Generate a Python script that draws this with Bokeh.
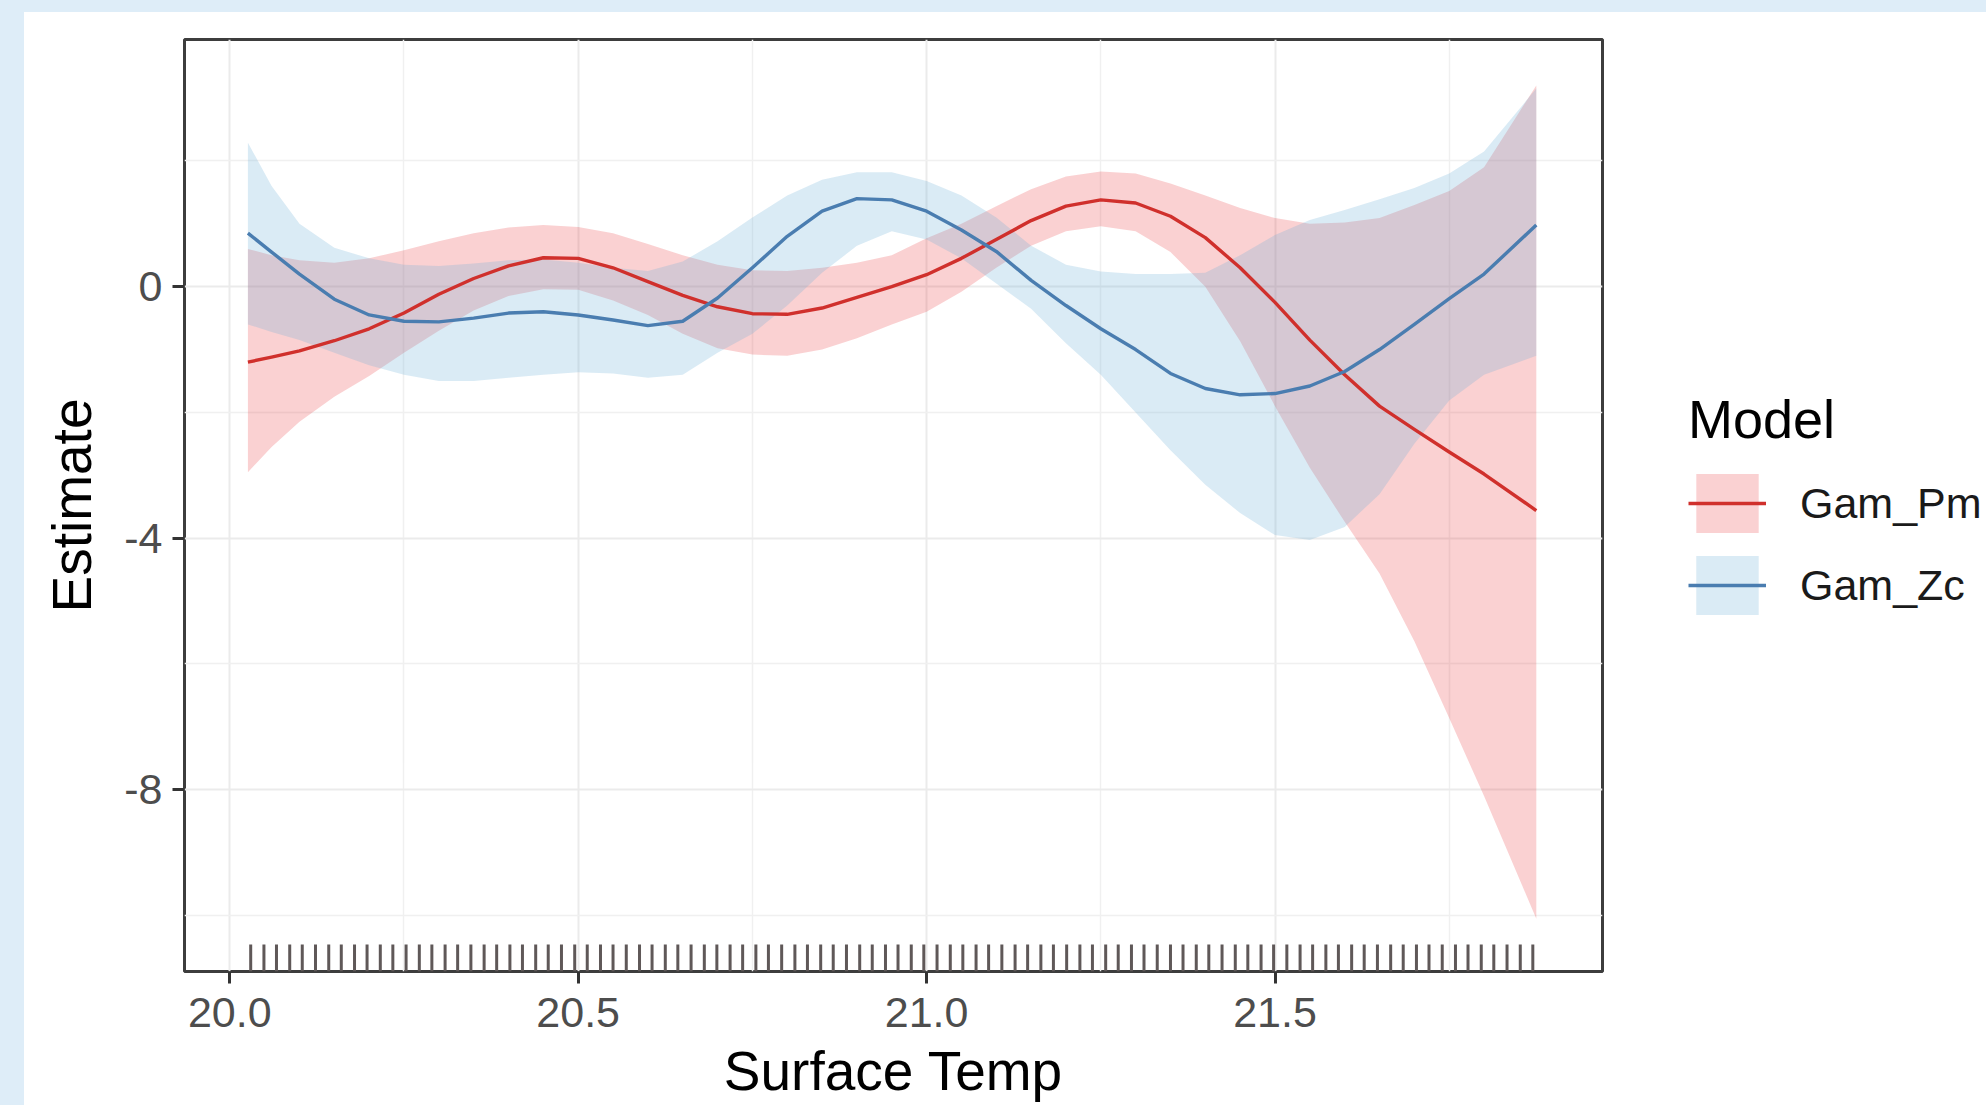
from bokeh.plotting import figure
from bokeh.layouts import row
from bokeh.models import (Range1d, FixedTicker, Legend, LegendItem,
                          GlobalInlineStyleSheet, PrintfTickFormatter)
from bokeh.embed import file_html
from bokeh.resources import INLINE

# ---------------- data ----------------
surface_temp = [20.026, 20.06, 20.1, 20.15, 20.2, 20.25, 20.3, 20.35, 20.4, 20.45,
                20.5, 20.55, 20.6, 20.65, 20.7, 20.75, 20.8, 20.85, 20.9, 20.95,
                21.0, 21.05, 21.1, 21.15, 21.2, 21.25, 21.3, 21.35, 21.4, 21.45,
                21.5, 21.55, 21.6, 21.65, 21.7, 21.75, 21.8, 21.875]

pm_fit = [-1.2, -1.12, -1.02, -0.86, -0.67, -0.42, -0.12, 0.13, 0.33, 0.46,
          0.45, 0.3, 0.08, -0.14, -0.32, -0.43, -0.44, -0.34, -0.17, 0.0,
          0.19, 0.45, 0.75, 1.05, 1.28, 1.38, 1.33, 1.12, 0.78, 0.3,
          -0.25, -0.85, -1.4, -1.9, -2.27, -2.63, -2.98, -3.56]
pm_upper = [0.6, 0.5, 0.42, 0.38, 0.45, 0.58, 0.72, 0.85, 0.94, 0.98,
            0.95, 0.85, 0.68, 0.5, 0.35, 0.26, 0.25, 0.3, 0.38, 0.5,
            0.77, 1.0, 1.28, 1.55, 1.75, 1.83, 1.8, 1.64, 1.45, 1.25,
            1.09, 1.0, 1.02, 1.09, 1.3, 1.52, 1.9, 3.2]
pm_lower = [-2.95, -2.55, -2.15, -1.75, -1.42, -1.05, -0.7, -0.38, -0.15, -0.04,
            -0.05, -0.22, -0.45, -0.75, -0.98, -1.08, -1.1, -1.0, -0.82, -0.6,
            -0.4, -0.08, 0.3, 0.65, 0.88, 0.96, 0.88, 0.55, 0.0, -0.87,
            -1.9, -2.88, -3.74, -4.56, -5.64, -6.86, -8.1, -10.05]

zc_fit = [0.85, 0.55, 0.2, -0.2, -0.45, -0.55, -0.56, -0.5, -0.42, -0.4,
          -0.45, -0.53, -0.62, -0.55, -0.18, 0.3, 0.8, 1.2, 1.4, 1.38,
          1.2, 0.9, 0.56, 0.1, -0.3, -0.67, -1.0, -1.38, -1.62, -1.72,
          -1.7, -1.58, -1.35, -1.0, -0.6, -0.19, 0.2, 0.98]
zc_upper = [2.29, 1.6, 1.0, 0.62, 0.45, 0.35, 0.33, 0.37, 0.42, 0.43,
            0.38, 0.3, 0.25, 0.4, 0.72, 1.1, 1.45, 1.7, 1.82, 1.82,
            1.68, 1.45, 1.1, 0.65, 0.35, 0.24, 0.2, 0.2, 0.22, 0.5,
            0.82, 1.06, 1.22, 1.39, 1.57, 1.8, 2.15, 3.15]
zc_lower = [-0.6, -0.72, -0.85, -1.05, -1.25, -1.4, -1.5, -1.5, -1.45, -1.4,
            -1.36, -1.38, -1.45, -1.4, -1.05, -0.75, -0.3, 0.22, 0.65, 0.88,
            0.75, 0.45, 0.05, -0.35, -0.9, -1.4, -2.0, -2.6, -3.15, -3.6,
            -3.95, -4.03, -3.82, -3.3, -2.5, -1.81, -1.4, -1.1]

rug_temp = [20.030, 20.049, 20.067, 20.086, 20.104, 20.123, 20.142, 20.160, 20.179, 20.197,
            20.216, 20.234, 20.253, 20.272, 20.290, 20.309, 20.327, 20.346, 20.365, 20.383,
            20.402, 20.420, 20.439, 20.457, 20.476, 20.495, 20.513, 20.532, 20.550, 20.569,
            20.588, 20.606, 20.625, 20.643, 20.662, 20.681, 20.699, 20.718, 20.736, 20.755,
            20.773, 20.792, 20.811, 20.829, 20.848, 20.866, 20.885, 20.904, 20.922, 20.941,
            20.959, 20.978, 20.996, 21.015, 21.034, 21.052, 21.071, 21.089, 21.108, 21.127,
            21.145, 21.164, 21.182, 21.201, 21.220, 21.238, 21.257, 21.275, 21.294, 21.312,
            21.331, 21.350, 21.368, 21.387, 21.405, 21.424, 21.443, 21.461, 21.480, 21.498,
            21.517, 21.536, 21.554, 21.573, 21.591, 21.610, 21.628, 21.647, 21.666, 21.684,
            21.703, 21.721, 21.740, 21.759, 21.777, 21.796, 21.814, 21.833, 21.852, 21.870]

x_ticks = [20.0, 20.5, 21.0, 21.5]
x_tick_labels = ["20.0", "20.5", "21.0", "21.5"]
x_minor = [20.25, 20.75, 21.25, 21.75]
y_ticks = [0, -4, -8]
y_tick_labels = ["0", "-4", "-8"]
y_minor = [2, -2, -6, -10]
models = ["Gam_Pm", "Gam_Zc"]

# ---------------- styling ----------------
FONT = "Liberation Sans"
PM_LINE, PM_FILL = "#D0302C", "#E41A1C"
ZC_LINE, ZC_FILL = "#4A7DB0", "#6BAED6"
PM_ALPHA, ZC_ALPHA = 0.2, 0.25
X0, X1 = 19.935, 21.970
Y0, Y1 = -10.89, 3.93
H = 1093

p = figure(width=1582, height=H,
           x_range=Range1d(X0, X1), y_range=Range1d(Y0, Y1),
           output_backend="svg", toolbar_location=None,
           min_border_left=160, min_border_top=27,
           min_border_right=4, min_border_bottom=134)
p.stylesheets = [GlobalInlineStyleSheet(css=(
    "html,body{margin:0;overflow:hidden;background:#deedf8;}"
    "body{padding:12px 0 0 24px;}"))]
p.background_fill_color = "white"
p.border_fill_color = "white"
p.outline_line_color = "#3d3d3d"
p.outline_line_width = 3

# ribbons
p.varea(x=surface_temp, y1=pm_lower, y2=pm_upper, fill_color=PM_FILL, fill_alpha=PM_ALPHA)
p.varea(x=surface_temp, y1=zc_lower, y2=zc_upper, fill_color=ZC_FILL, fill_alpha=ZC_ALPHA)
# lines
p.line(surface_temp, pm_fit, line_color=PM_LINE, line_width=3.4, line_join="round")
p.line(surface_temp, zc_fit, line_color=ZC_LINE, line_width=3.4, line_join="round")

# rug
rug_h = (Y1 - Y0) * 27.0 / 932.0
p.segment(x0=rug_temp, x1=rug_temp,
          y0=[Y0] * len(rug_temp), y1=[Y0 + rug_h] * len(rug_temp),
          line_color="#5f5858", line_width=3)

# axes
for ax, ticks, minor, labels in ((p.xaxis, x_ticks, x_minor, x_tick_labels),
                                 (p.yaxis, y_ticks, y_minor, y_tick_labels)):
    ax.ticker = FixedTicker(ticks=ticks, minor_ticks=minor)
    ax.major_label_overrides = dict(zip(ticks, labels))
    ax.axis_line_color = None
    ax.major_tick_line_color = "#333333"
    ax.major_tick_line_width = 3
    ax.major_tick_out = 12
    ax.major_tick_in = 0
    ax.minor_tick_line_color = None
    ax.major_label_text_font = FONT
    ax.major_label_text_font_size = "43px"
    ax.major_label_text_color = "#4d4d4d"
    ax.axis_label_text_font = FONT
    ax.axis_label_text_font_size = "55px"
    ax.axis_label_text_font_style = "normal"
    ax.axis_label_text_color = "#000000"

p.xaxis.formatter = PrintfTickFormatter(format="%.1f")
p.yaxis.formatter = PrintfTickFormatter(format="%d")
p.xaxis.axis_label = "Surface Temp"
p.yaxis.axis_label = "Estimate"
p.xaxis.major_label_standoff = 14
p.yaxis.major_label_standoff = 10
p.xaxis.axis_label_standoff = 10
p.yaxis.axis_label_standoff = 18

for g in (p.xgrid, p.ygrid):
    g.grid_line_color = "#ebebeb"
    g.grid_line_width = 2
    g.minor_grid_line_color = "#f0f0f0"
    g.minor_grid_line_width = 1.5
p.xgrid.ticker = FixedTicker(ticks=x_ticks, minor_ticks=x_minor)
p.ygrid.ticker = FixedTicker(ticks=y_ticks, minor_ticks=y_minor)

# ---------------- legend panel ----------------
pl = figure(width=1962 - 1582, height=H, x_range=Range1d(0, 1), y_range=Range1d(0, 1),
            x_axis_location=None, y_axis_location=None,
            output_backend="svg", toolbar_location=None,
            min_border=0, min_border_left=0, min_border_right=0,
            min_border_top=0, min_border_bottom=0)
pl.grid.visible = False
pl.outline_line_color = None
pl.background_fill_color = "white"
pl.border_fill_color = "white"

# key glyphs: same styles, placed outside the visible range (only the legend shows them)
off = [5, 6]
kp_band = pl.varea(x=off, y1=off, y2=off, fill_color=PM_FILL, fill_alpha=PM_ALPHA)
kp_line = pl.line(x=off, y=off, line_color=PM_LINE, line_width=3.4)
kz_band = pl.varea(x=off, y1=off, y2=off, fill_color=ZC_FILL, fill_alpha=ZC_ALPHA)
kz_line = pl.line(x=off, y=off, line_color=ZC_LINE, line_width=3.4)

legend = Legend(
    items=[LegendItem(label=models[0], renderers=[kp_band, kp_line]),
           LegendItem(label=models[1], renderers=[kz_band, kz_line])],
    location=(82, 349), title="Model",
    glyph_width=78, glyph_height=74, label_height=74,
    label_standoff=34, spacing=8, padding=0, margin=0,
    border_line_color=None, background_fill_alpha=0,
    label_text_font=FONT, label_text_font_size="43px", label_text_color="#1a1a1a",
    title_text_font=FONT, title_text_font_size="54px", title_text_font_style="normal",
    title_text_color="#000000", title_standoff=16)
pl.add_layout(legend)

layout = row(p, pl, spacing=0)
layout.styles = {"background-color": "white"}
open("out.html", "w").write(file_html(layout, INLINE))
